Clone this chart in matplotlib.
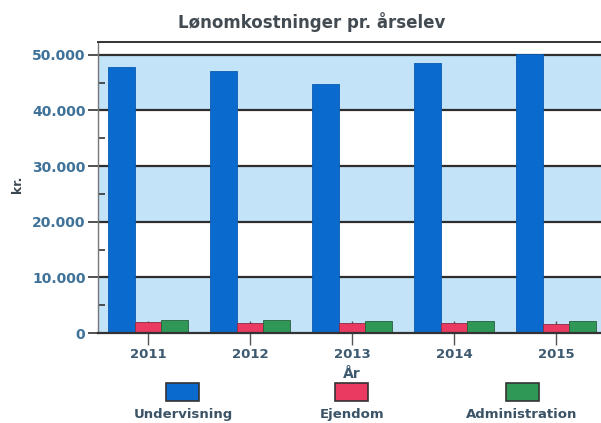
import matplotlib
matplotlib.use("Agg")
import matplotlib.pyplot as plt
from matplotlib.patches import Rectangle
import numpy as np

years = ["2011", "2012", "2013", "2014", "2015"]
series_names = ["Undervisning", "Ejendom", "Administration"]
undervisning = [47800, 47000, 44700, 48500, 50100]
ejendom = [1950, 1850, 1850, 1730, 1620]
administration = [2400, 2280, 2200, 2150, 2090]
yticks = [0, 10000, 20000, 30000, 40000, 50000]
ytick_labels = ["0", "10.000", "20.000", "30.000", "40.000", "50.000"]
band_edges = [0, 10000, 20000, 30000, 40000, 50000, 52300]
band_fill = ["#c3e3f8", "#ffffff", "#c3e3f8", "#ffffff", "#c3e3f8", "#ffffff"]

colors = ["#0a6acd", "#ea3a62", "#2f9856"]
edges = ["#0a5bb0", "#8a2b40", "#2a5f3c"]

W, H = 601, 423
fig = plt.figure(figsize=(W / 100, H / 100), dpi=100)
fig.patch.set_facecolor("white")

ax = fig.add_axes([98 / W, 1 - 333 / H, 508 / W, 291 / H])
ax.set_facecolor("white")
ax.set_xlim(-0.49, 4.49)
ax.set_ylim(0, band_edges[-1])

# background bands (alternating light blue / white)
ytrans = ax.get_yaxis_transform()
for lo, hi, fc in zip(band_edges[:-1], band_edges[1:], band_fill):
    ax.add_patch(Rectangle((0, lo), 1, hi - lo, transform=ytrans,
                           facecolor=fc, edgecolor="none", zorder=0.1))
# gridlines
for t in yticks[1:]:
    ax.axhline(t, color="#2e2e2e", lw=1.6, zorder=0.5)

x = np.arange(len(years))
w = 0.26
data = [undervisning, ejendom, administration]
for i, (vals, c, ec) in enumerate(zip(data, colors, edges)):
    ax.bar(x + (i - 1) * w, vals, width=w, color=c, edgecolor=ec, lw=0.6, zorder=2)

ax.set_xticks(x)
ax.set_xticklabels(years)
ax.set_yticks(yticks)
ax.set_yticklabels(ytick_labels)
ax.set_yticks(np.arange(5000, 50001, 10000), minor=True)

ax.tick_params(axis="y", which="major", direction="out", length=7, width=1.2, color="#333333",
               labelsize=10, labelcolor="#3f7299", pad=2)
ax.tick_params(axis="y", which="minor", direction="in", length=5, width=1.2, color="#333333")
ax.tick_params(axis="x", which="major", direction="inout", length=17, width=1, color="#555555",
               labelsize=9.5, labelcolor="#3e5a70", pad=2)
for lab in ax.get_yticklabels() + ax.get_xticklabels():
    lab.set_fontweight("bold")

ax.spines["right"].set_visible(False)
ax.spines["left"].set_color("#777777")
ax.spines["left"].set_linewidth(1)
ax.spines["top"].set_color("#333333")
ax.spines["top"].set_linewidth(1.4)
ax.spines["bottom"].set_color("#333333")
ax.spines["bottom"].set_linewidth(1.6)

# title and axis labels
fig.text(312 / W, 1 - 22 / H, "Lønomkostninger pr. årselev", ha="center", va="center",
         fontsize=12, fontweight="bold", color="#434b52")
fig.text(18 / W, 1 - 184 / H, "kr.", ha="center", va="center", rotation=90,
         fontsize=9, fontweight="bold", color="#3a4650")
fig.text(352 / W, 1 - 374 / H, "År", ha="center", va="center",
         fontsize=10, fontweight="bold", color="#3e5a70")

# legend: patch above label
centers = [183, 352, 522]
for cx, name, c in zip(centers, series_names, colors):
    fig.add_artist(Rectangle(((cx - 16.5) / W, 1 - 401 / H), 33 / W, 18 / H,
                             transform=fig.transFigure, facecolor=c,
                             edgecolor="#333333", lw=1.2))
    fig.text(cx / W, 1 - 414 / H, name, ha="center", va="center",
             fontsize=9.5, fontweight="bold", color="#3a5366")

fig.savefig("out.png", dpi=100)
